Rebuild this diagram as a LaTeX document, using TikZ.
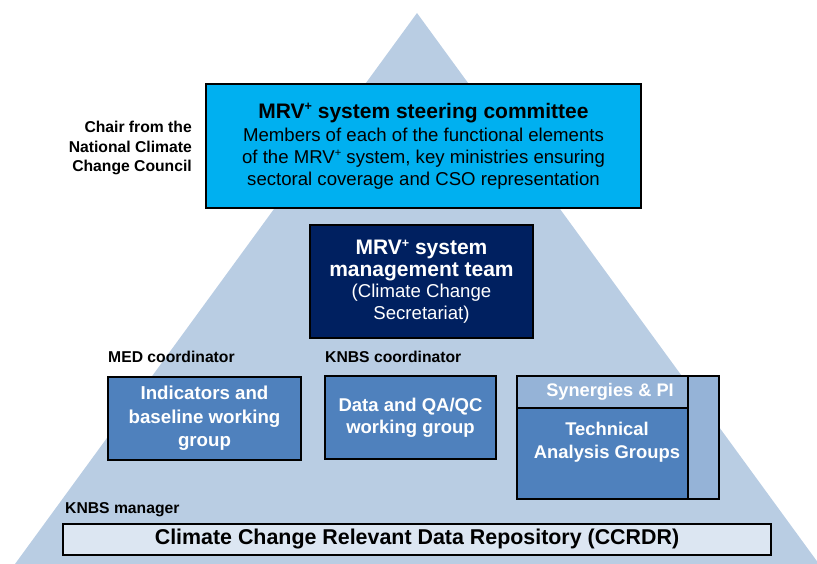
\documentclass[tikz,border=0pt]{standalone}
\usepackage{graphicx}
\usepackage{fontspec}
\setmainfont{Liberation Sans}
\definecolor{tribg}{HTML}{B9CDE3}
\definecolor{steer}{HTML}{00B0F0}
\definecolor{navy}{HTML}{002060}
\definecolor{wgblue}{HTML}{4F81BD}
\definecolor{lightblue}{HTML}{95B3D7}
\definecolor{paleblue}{HTML}{DCE6F2}
\newcommand{\titlefont}{\bfseries\fontsize{21}{25}\selectfont}
\newcommand{\supplus}{\raisebox{0.36em}{\scalebox{0.6}{+}}}
\tikzset{
  boxnode/.style={draw=black, line width=2pt, anchor=north west, inner sep=0pt, align=center},
  sidelabel/.style={font=\bfseries\fontsize{15.7}{19.8}\selectfont, inner sep=0pt, text=black},
}
\begin{document}
\begin{tikzpicture}[x=1pt,y=-1pt]
\useasboundingbox (0,0) rectangle (817,564);
\clip (0,0) rectangle (817,564);
\fill[tribg] (417,13) -- (819,564) -- (15,564) -- cycle;

% steering committee
\node[boxnode, fill=steer, minimum width=435, minimum height=124,
      font=\fontsize{18.6}{22}\selectfont] (steer) at (205,83)
  {{\titlefont MRV\supplus{} system steering committee}\\[1pt]
   Members of each of the functional elements\\
   of the MRV\supplus{} system, key ministries ensuring\\
   sectoral coverage and CSO representation};

% management team
\node[boxnode, fill=navy, text=white, minimum width=223, minimum height=113,
      font=\fontsize{18.6}{21.5}\selectfont] (mgmt) at (309,224)
  {{\titlefont MRV\supplus{} system}\\
   {\titlefont management team}\\
   (Climate Change\\ Secretariat)};

% working groups
\node[boxnode, fill=wgblue, text=white, minimum width=193, minimum height=83,
      font=\bfseries\fontsize{18.7}{23.5}\selectfont] (ind) at (107,376)
  {Indicators and\\ baseline working\\ group};
\node[boxnode, fill=wgblue, text=white, minimum width=171, minimum height=83,
      font=\bfseries\fontsize{18.5}{22}\selectfont] (data) at (324,375)
  {Data and QA/QC\\ working group};

% synergies / technical analysis
\node[boxnode, fill=lightblue, minimum width=31, minimum height=123] (side) at (687,375) {};
\node[boxnode, fill=wgblue, minimum width=171, minimum height=91] (tag) at (516,407) {};
\node[boxnode, fill=lightblue, text=white, minimum width=171, minimum height=32,
      font=\bfseries\fontsize{18.2}{20}\selectfont] (syn) at (516,375) {\hspace*{15pt}Synergies \& PI};
\node[text=white, align=center, inner sep=0pt, font=\bfseries\fontsize{18.4}{23}\selectfont]
  (taglabel) at (607,442) {Technical\\ Analysis Groups};

% CCRDR
\node[boxnode, fill=paleblue, minimum width=708, minimum height=31,
      font=\bfseries\fontsize{21.4}{24}\selectfont] (ccrdr) at (62,523)
  {Climate Change Relevant Data Repository (CCRDR)};

% side labels
\node[sidelabel, align=right, anchor=east] (chair) at (192,148)
  {Chair from the\\ National Climate\\ Change Council};
\node[sidelabel, anchor=west] (med) at (108,357) {MED coordinator};
\node[sidelabel, anchor=west] (knbs) at (325,357) {KNBS coordinator};
\node[sidelabel, anchor=west] (mgr) at (65,510) {KNBS manager};
\end{tikzpicture}
\end{document}
